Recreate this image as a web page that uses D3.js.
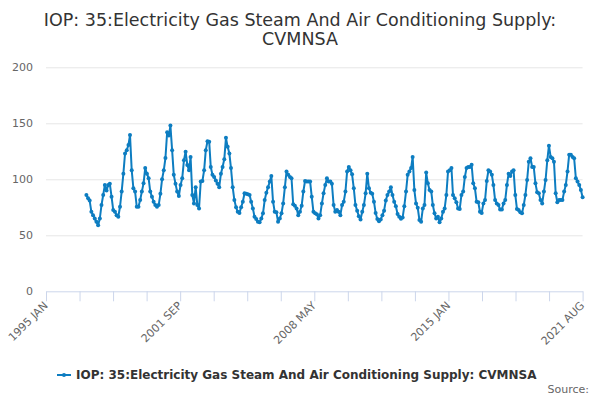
<!DOCTYPE html>
<html>
<head>
<meta charset="utf-8">
<script src="https://cdn.jsdelivr.net/npm/d3@7/dist/d3.min.js"></script>
<style>
  body { margin: 0; background: #fff; }
  text { font-family: "DejaVu Sans", sans-serif; }
</style>
</head>
<body>
<svg id="chart" width="600" height="400"></svg>
<script>
// chart text
const titleLines = ["IOP: 35:Electricity Gas Steam And Air Conditioning Supply:", "CVMNSA"];
const seriesName = "IOP: 35:Electricity Gas Steam And Air Conditioning Supply: CVMNSA";
const sourceText = "Source:";

// monthly series, first value is 1997 JAN, last is 2021 AUG
const firstMonth = [1997, 0];
const values = [
  86, 83, 81, 71, 68, 65, 62, 59, 65, 77, 86, 95,            // 1997
  90, 95, 96, 84.5, 72.6, 71, 68, 66.6, 75.5, 89, 105, 123,  // 1998
  126, 130.6, 139.5, 108, 92, 89, 75.5, 75.5, 81.5, 89, 96.4, 110, // 1999
  105, 101, 89, 84.5, 80, 77, 75.5, 77, 87, 100, 108, 119,   // 2000
  142, 139, 148, 126, 104, 96, 89, 85, 95, 101, 117, 124.6,  // 2001
  112.8, 108, 120, 86, 78.5, 93, 77, 74, 98, 98.5, 108, 126, // 2002
  134, 133.5, 111, 104, 102, 99, 96, 93, 105, 111, 118, 137, // 2003
  129, 123, 110, 93, 81.5, 75, 71, 70, 75, 80, 87.5, 87,     // 2004
  86.6, 86, 80, 74, 66.6, 64.5, 62, 61.6, 65, 69.6, 81.5, 88, // 2005
  93, 98, 103, 80, 71, 70.5, 62, 65, 69.6, 78.5, 93, 107,    // 2006
  104, 102, 101, 77.7, 76.4, 74, 68, 71, 76.4, 89, 98.5, 98, // 2007
  98, 98, 84.5, 71, 69.6, 68.8, 65, 68, 78.5, 87.5, 95, 101, // 2008
  98, 98, 96, 77, 71, 72.6, 71, 68, 77, 80, 89, 107,         // 2009
  111, 108, 104.5, 92, 77, 72, 67, 64, 71, 77, 87.5, 105,    // 2010
  92, 88, 87, 80, 70, 64.5, 62.5, 64, 68, 72, 81, 86,        // 2011
  89, 93, 86, 80, 76, 69, 66.5, 64.8, 66, 76, 89, 104,       // 2012
  107, 110, 120, 90.4, 78.5, 74.6, 63.7, 62, 74, 77, 106, 96.4, // 2013
  90.4, 89, 77, 69.6, 65, 66.6, 61.6, 65, 71, 74, 86, 107,   // 2014
  108, 110, 86, 83, 79.5, 74, 73.5, 86, 89, 102, 110, 111,   // 2015
  111, 113, 96.4, 92, 80, 79.5, 71, 70, 78.5, 81.5, 98.5, 108, // 2016
  107, 104, 95, 81.5, 78.5, 77, 73, 73, 78.5, 81.5, 95, 105, // 2017
  103, 107, 108, 86, 73.5, 72.6, 70.5, 69.6, 77, 86, 99.4, 115.7, // 2018
  118.8, 111, 111, 96.4, 88.4, 87.5, 81.5, 78.5, 89, 99.4, 117, 130, // 2019
  120, 118.8, 115.7, 87.5, 79.5, 81.5, 81.5, 81.5, 89, 95, 107, 122, // 2020
  122, 120, 118.8, 101, 98, 95, 90.4, 84                     // 2021
];

// axes
const axisStart = [1995, 0];
const axisEnd = [2021, 7];
const xTickCount = 17;
const xTickLabels = ["1995 JAN", "2001 SEP", "2008 MAY", "2015 JAN", "2021 AUG"];
const yTicks = [0, 50, 100, 150, 200];

const W = 600, H = 400;
const plot = {left: 46, right: 582.6, top: 67.3, bottom: 291.3};
const blue = "#0d7dc1";

const svg = d3.select("#chart");

const data = values.map((v, i) => ({date: new Date(firstMonth[0], firstMonth[1] + i, 1), value: v}));

const x = d3.scaleTime()
  .domain([new Date(axisStart[0], axisStart[1], 1), new Date(axisEnd[0], axisEnd[1], 1)])
  .range([plot.left, plot.right]);

const y = d3.scaleLinear()
  .domain([0, 200])
  .range([plot.bottom, plot.top]);

// title
svg.append("text")
  .attr("x", W / 2)
  .attr("text-anchor", "middle")
  .attr("fill", "#333")
  .style("font-size", "17.5px")
  .selectAll("tspan")
  .data(titleLines)
  .join("tspan")
  .attr("x", W / 2)
  .attr("y", (d, i) => 26 + i * 19)
  .text(d => d);

// gridlines + y labels
const yAxis = svg.append("g")
  .attr("transform", `translate(${plot.left},0)`)
  .call(d3.axisLeft(y).tickValues(yTicks).tickSize(-(plot.right - plot.left)).tickPadding(13));
yAxis.select(".domain").remove();
yAxis.selectAll(".tick line").attr("stroke", "#e6e6e6");
yAxis.selectAll(".tick").filter(d => d === 0).select("line").remove();
yAxis.selectAll(".tick text")
  .attr("fill", "#666")
  .style("font-size", "11px")
  .style("font-family", "DejaVu Sans, sans-serif");

// x axis: evenly spaced ticks, labelled every fourth
const t0 = x.domain()[0].getTime(), t1 = x.domain()[1].getTime();
const xTicks = d3.range(xTickCount).map(i => new Date(t0 + i * (t1 - t0) / (xTickCount - 1)));
const xAxis = svg.append("g")
  .attr("transform", `translate(0,${plot.bottom})`)
  .call(d3.axisBottom(x)
    .tickValues(xTicks)
    .tickSize(10)
    .tickSizeOuter(0)
    .tickFormat((d, i) => i % 4 === 0 ? xTickLabels[i / 4] : ""));
xAxis.select(".domain").attr("stroke", "#ccd6eb");
xAxis.selectAll(".tick line").attr("stroke", "#ccd6eb");
xAxis.selectAll(".tick text")
  .attr("fill", "#666")
  .style("font-size", "11px")
  .style("font-family", "DejaVu Sans, sans-serif")
  .attr("text-anchor", "end")
  .attr("x", 0)
  .attr("y", 0)
  .attr("dy", 0)
  .attr("transform", "translate(2,15) rotate(-45)");

// series
const line = d3.line()
  .x(d => x(d.date))
  .y(d => y(d.value));

svg.append("path")
  .datum(data)
  .attr("fill", "none")
  .attr("stroke", blue)
  .attr("stroke-width", 2)
  .attr("stroke-linejoin", "round")
  .attr("d", line);

svg.append("g")
  .selectAll("circle")
  .data(data)
  .join("circle")
  .attr("cx", d => x(d.date))
  .attr("cy", d => y(d.value))
  .attr("r", 2)
  .attr("fill", blue);

// legend
const legend = svg.append("g").attr("transform", "translate(57,375)");
legend.append("line")
  .attr("x1", 0).attr("x2", 14)
  .attr("stroke", blue).attr("stroke-width", 2);
legend.append("circle").attr("cx", 7).attr("r", 2).attr("fill", blue);
legend.append("text")
  .attr("x", 19)
  .attr("dy", "0.35em")
  .attr("fill", "#333")
  .style("font-size", "12px")
  .style("font-weight", "bold")
  .text(seriesName);

svg.append("text")
  .attr("x", 589)
  .attr("y", 393)
  .attr("text-anchor", "end")
  .attr("fill", "#666")
  .style("font-size", "11px")
  .text(sourceText);
</script>
</body>
</html>
